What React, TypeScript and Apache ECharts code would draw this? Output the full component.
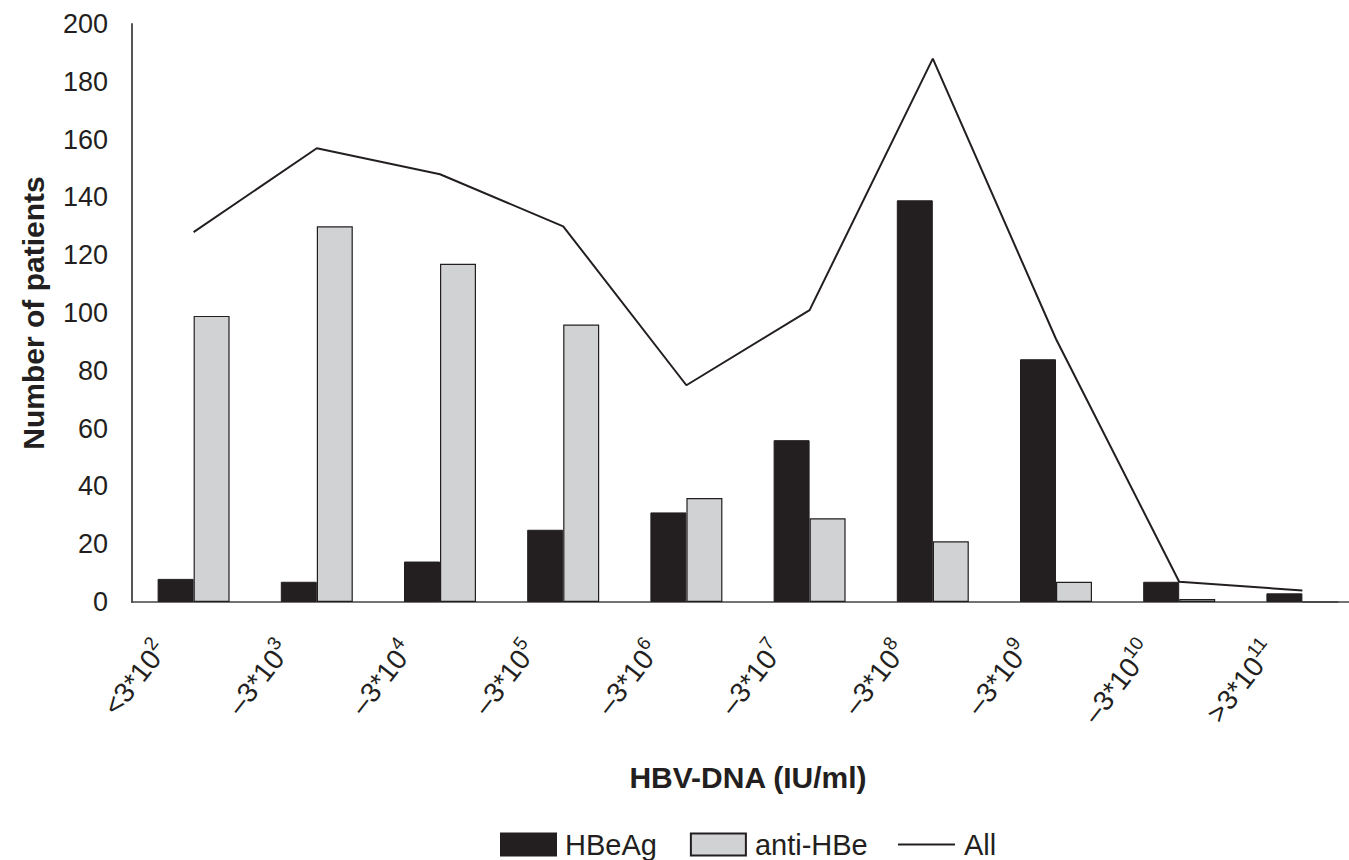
import React, { useEffect, useRef } from "react";
import * as echarts from "echarts";

// HBV-DNA load classes; the part after "^" is drawn as a superscript exponent
const categories = [
  "<3*10^2",
  "–3*10^3",
  "–3*10^4",
  "–3*10^5",
  "–3*10^6",
  "–3*10^7",
  "–3*10^8",
  "–3*10^9",
  "–3*10^10",
  ">3*10^11",
];

const hbeagPatients = [8, 7, 14, 25, 31, 56, 139, 84, 7, 3];
const antiHbePatients = [99, 130, 117, 96, 36, 29, 21, 7, 1, 0];
const allPatients = [128, 157, 148, 130, 75, 101, 188, 91, 7, 4];

const yMin = 0;
const yMax = 200;
const yStep = 20;

const INK = "#231f20";
const FONT = "'Liberation Sans', Arial, Helvetica, sans-serif";

export default function App() {
  const ref = useRef<HTMLDivElement>(null);

  useEffect(() => {
    if (!ref.current) return;
    const chart = echarts.init(ref.current, undefined, { renderer: "svg" });

    const legendText = { fontSize: 29, color: INK, fontFamily: FONT, padding: [0, 0, 0, 4] };

    chart.setOption({
      animation: false,
      backgroundColor: "#ffffff",
      textStyle: { fontFamily: FONT, color: INK },
      // the plot runs past the right edge of the visible frame
      grid: { left: 132, top: 24, width: 1232, height: 578, containLabel: false },
      xAxis: {
        type: "category",
        data: categories,
        name: "HBV-DNA (IU/ml)",
        nameLocation: "middle",
        nameGap: 160,
        nameTextStyle: { fontSize: 30, fontWeight: "bold", color: INK, fontFamily: FONT },
        axisLine: { show: true, lineStyle: { color: "#444", width: 1.5 } },
        axisTick: { show: false },
        axisLabel: {
          interval: 0,
          rotate: 52,
          margin: 2,
          padding: [0, 52, 0, 0],
          color: INK,
          formatter: (v: string) => {
            const [base, exp] = v.split("^");
            return `{b|${base}}{s|${exp}}`;
          },
          rich: {
            b: { fontSize: 28, fontFamily: FONT, color: INK, lineHeight: 38 },
            s: { fontSize: 19, fontFamily: FONT, color: INK, verticalAlign: "top", lineHeight: 23 },
          },
        },
      },
      yAxis: {
        type: "value",
        min: yMin,
        max: yMax,
        interval: yStep,
        name: "Number of patients",
        nameLocation: "middle",
        nameGap: 84,
        nameTextStyle: { fontSize: 30, fontWeight: "bold", color: INK, fontFamily: FONT },
        axisLine: { show: true, lineStyle: { color: "#555", width: 2 } },
        axisTick: { show: false },
        splitLine: { show: false },
        axisLabel: { fontSize: 27, color: INK, margin: 24, fontFamily: FONT },
      },
      legend: [
        {
          data: ["HBeAg", "anti-HBe"],
          left: 495,
          top: 825,
          itemWidth: 55,
          itemHeight: 22,
          itemGap: 33,
          icon: "rect",
          textStyle: legendText,
        },
        {
          data: ["All"],
          left: 893,
          top: 825,
          itemWidth: 57,
          itemHeight: 2,
          icon: "rect",
          textStyle: legendText,
        },
      ],
      series: [
        {
          name: "HBeAg",
          type: "bar",
          data: hbeagPatients,
          barWidth: 36,
          barGap: "0%",
          itemStyle: { color: INK, borderColor: INK, borderWidth: 1 },
        },
        {
          name: "anti-HBe",
          type: "bar",
          data: antiHbePatients,
          barWidth: 36,
          barGap: "0%",
          itemStyle: { color: "#d1d2d4", borderColor: INK, borderWidth: 1.2 },
        },
        {
          name: "All",
          type: "line",
          data: allPatients,
          symbol: "none",
          z: 5,
          lineStyle: { color: INK, width: 2 },
          itemStyle: { color: INK },
        },
      ],
    });

    return () => chart.dispose();
  }, []);

  return (
    <div
      style={{
        position: "fixed",
        left: 0,
        top: 0,
        width: 1349,
        height: 860,
        overflow: "hidden",
        background: "#fff",
      }}
    >
      <div ref={ref} style={{ width: 1372, height: 860 }} />
    </div>
  );
}
